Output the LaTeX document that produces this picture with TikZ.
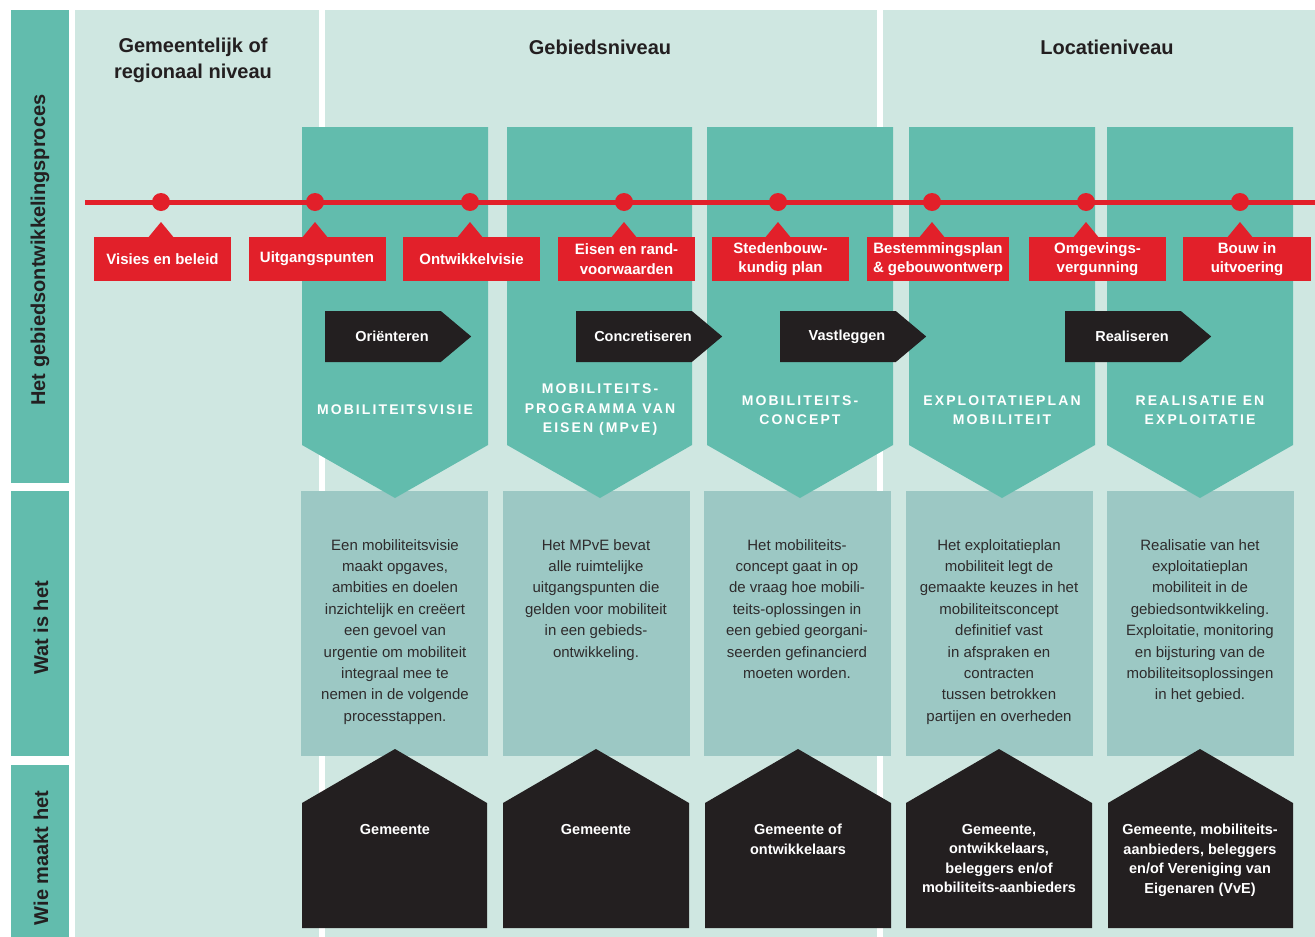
\documentclass[tikz,border=0pt]{standalone}
\usepackage{fontspec}
\setmainfont{Liberation Sans}
\newfontfamily\spacedfont[LetterSpace=15]{Liberation Sans}
\usetikzlibrary{calc,shapes,positioning}
\definecolor{mint}{HTML}{CFE7E1}
\definecolor{tealband}{HTML}{62BCAD}
\definecolor{descfill}{HTML}{9CC8C4}
\definecolor{redline}{HTML}{E2202A}
\definecolor{darkbox}{HTML}{231F20}
\definecolor{textgray}{HTML}{2E2B2C}

\begin{document}
\begin{tikzpicture}[x=1pt,y=-1pt,
  sidelabel/.style={rotate=90, text=darkbox, font=\fontsize{20}{24}\selectfont\bfseries},
  heading/.style={align=center, text=darkbox, font=\fontsize{20}{26}\selectfont\bfseries},
  milestone/.style={circle, fill=redline, minimum size=18pt, inner sep=0pt},
  milelabel/.style={fill=redline, text=white, minimum width=137pt, minimum height=44pt, inner sep=0pt, align=center, font=\fontsize{15}{19.5}\selectfont\bfseries},
  phase/.style={signal, signal to=east, signal pointer angle=80, fill=darkbox, text=white, minimum width=146pt, minimum height=51pt, inner sep=0pt, font=\fontsize{14.5}{18}\selectfont\bfseries, execute at begin node=\hspace*{18pt}},
  coltitle/.style={align=center, text=white, font=\fontsize{14}{19.5}\spacedfont\bfseries},
  desctext/.style={anchor=north, align=center, inner sep=0pt, text=textgray, font=\fontsize{15}{21.4}\selectfont},
  whotext/.style={anchor=north, align=center, inner sep=0pt, text=white, font=\fontsize{14.5}{19.5}\selectfont\bfseries}]
  \useasboundingbox (0,0) rectangle (1315,937);

  % achtergrond
  \fill [mint] (75,10) rectangle (319,937);
  \fill [mint] (325,10) rectangle (877,937);
  \fill [mint] (883,10) rectangle (1315,937);
  \fill [tealband] (11,10) rectangle (69,483);
  \fill [tealband] (11,491) rectangle (69,756);
  \fill [tealband] (11,765) rectangle (69,937);

  \node [sidelabel] (proces) at (40,250) {Het gebiedsontwikkelingsproces};
  \node [sidelabel] (watis) at (41,628) {Wat is het};
  \node [sidelabel] (wiemaakt) at (41,858) {Wie maakt het};

  \node [heading] (gemeentelijk) at (193,60) {Gemeentelijk of\\regionaal niveau};
  \node [heading] (gebied) at (600,47) {Gebiedsniveau};
  \node [heading] (locatie) at (1107,47) {Locatieniveau};

  % wat is het
  \fill [descfill] (301,491) rectangle (488,756);
  \fill [descfill] (503,491) rectangle (690,756);
  \fill [descfill] (704,491) rectangle (891,756);
  \fill [descfill] (906,491) rectangle (1093,756);
  \fill [descfill] (1107,491) rectangle (1294,756);

  % fasen
  \fill [tealband] (302,127) -- (488,127) -- (488,445) -- (395,498) -- (302,445) -- cycle;
  \fill [tealband] (507,127) -- (692,127) -- (692,445) -- (600,498) -- (507,445) -- cycle;
  \fill [tealband] (707,127) -- (893,127) -- (893,445) -- (800,498) -- (707,445) -- cycle;
  \fill [tealband] (909,127) -- (1095,127) -- (1095,445) -- (1002,498) -- (909,445) -- cycle;
  \fill [tealband] (1107,127) -- (1293,127) -- (1293,445) -- (1200,498) -- (1107,445) -- cycle;

  % tijdlijn
  \coordinate (tlstart) at (85,202);
  \coordinate (tlend) at (1315,202);
  \draw [redline, line width=5pt] (tlstart) -- (tlend);

  \node [milestone] (dot1) at (161,202) {};
  \node [milestone] (dot2) at (315,202) {};
  \node [milestone] (dot3) at (470,202) {};
  \node [milestone] (dot4) at (624,202) {};
  \node [milestone] (dot5) at (778,202) {};
  \node [milestone] (dot6) at (932,202) {};
  \node [milestone] (dot7) at (1086,202) {};
  \node [milestone] (dot8) at (1240,202) {};

  \node [milelabel] (lab1) at (162.5,259) {Visies en beleid};
  \node [milelabel] (lab2) at (317,259) {Uitgangspunten};
  \node [milelabel] (lab3) at (471.5,259) {Ontwikkelvisie};
  \node [milelabel] (lab4) at (626.5,259) {Eisen en rand-\\voorwaarden};
  \node [milelabel] (lab5) at (780.5,259) {Stedenbouw-\\kundig plan};
  \node [milelabel, minimum width=142pt] (lab6) at (938,259) {Bestemmingsplan\\\& gebouwontwerp};
  \node [milelabel] (lab7) at (1097.5,259) {Omgevings-\\vergunning};
  \node [milelabel, minimum width=128pt] (lab8) at (1247,259) {Bouw in\\uitvoering};

  \fill [redline] ($(lab1.north -| dot1)+(-13,1)$) -- ($(dot1)+(0,20)$) -- ($(lab1.north -| dot1)+(13,1)$) -- cycle;
  \fill [redline] ($(lab2.north -| dot2)+(-13,1)$) -- ($(dot2)+(0,20)$) -- ($(lab2.north -| dot2)+(13,1)$) -- cycle;
  \fill [redline] ($(lab3.north -| dot3)+(-13,1)$) -- ($(dot3)+(0,20)$) -- ($(lab3.north -| dot3)+(13,1)$) -- cycle;
  \fill [redline] ($(lab4.north -| dot4)+(-13,1)$) -- ($(dot4)+(0,20)$) -- ($(lab4.north -| dot4)+(13,1)$) -- cycle;
  \fill [redline] ($(lab5.north -| dot5)+(-13,1)$) -- ($(dot5)+(0,20)$) -- ($(lab5.north -| dot5)+(13,1)$) -- cycle;
  \fill [redline] ($(lab6.north -| dot6)+(-13,1)$) -- ($(dot6)+(0,20)$) -- ($(lab6.north -| dot6)+(13,1)$) -- cycle;
  \fill [redline] ($(lab7.north -| dot7)+(-13,1)$) -- ($(dot7)+(0,20)$) -- ($(lab7.north -| dot7)+(13,1)$) -- cycle;
  \fill [redline] ($(lab8.north -| dot8)+(-13,1)$) -- ($(dot8)+(0,20)$) -- ($(lab8.north -| dot8)+(13,1)$) -- cycle;

  \node [phase] (orient) at (383,336.5) {Oriënteren};
  \node [phase] (concreet) at (634,336.5) {Concretiseren};
  \node [phase] (vast) at (838,336.5) {Vastleggen};
  \node [phase] (realis) at (1123,336.5) {Realiseren};

  \node [coltitle] (tit1) at (395,410) {MOBILITEITSVISIE};
  \node [coltitle] (tit2) at (600,410) {MOBILITEITS-\\PROGRAMMA VAN\\EISEN (MPvE)};
  \node [coltitle] (tit3) at (800,410) {MOBILITEITS-\\CONCEPT};
  \node [coltitle] (tit4) at (1002,410) {EXPLOITATIEPLAN\\MOBILITEIT};
  \node [coltitle] (tit5) at (1200,410) {REALISATIE EN\\EXPLOITATIE};

  \node [desctext] (desc1) at (395,539) {Een mobiliteitsvisie\\maakt opgaves,\\ambities en doelen\\inzichtelijk en creëert\\een gevoel van\\urgentie om mobiliteit\\integraal mee te\\nemen in de volgende\\processtappen.};
  \node [desctext] (desc2) at (596,539) {Het MPvE bevat\\alle ruimtelijke\\uitgangspunten die\\gelden voor mobiliteit\\in een gebieds-\\ontwikkeling.};
  \node [desctext] (desc3) at (797,539) {Het mobiliteits-\\concept gaat in op\\de vraag hoe mobili-\\teits-oplossingen in\\een gebied georgani-\\seerden gefinancierd\\moeten worden.};
  \node [desctext] (desc4) at (999,539) {Het exploitatieplan\\mobiliteit legt de\\gemaakte keuzes in het\\mobiliteitsconcept\\definitief vast\\in afspraken en\\contracten\\tussen betrokken\\partijen en overheden};
  \node [desctext] (desc5) at (1200,539) {Realisatie van het\\exploitatieplan\\mobiliteit in de\\gebiedsontwikkeling.\\Exploitatie, monitoring\\en bijsturing van de\\mobiliteitsoplossingen\\in het gebied.};

  % wie maakt het
  \fill [darkbox] (302,928) -- (302,803) -- (395,749) -- (487,803) -- (487,928) -- cycle;
  \fill [darkbox] (503,928) -- (503,803) -- (596,749) -- (689,803) -- (689,928) -- cycle;
  \fill [darkbox] (705,928) -- (705,803) -- (798,749) -- (891,803) -- (891,928) -- cycle;
  \fill [darkbox] (906,928) -- (906,803) -- (999,749) -- (1092,803) -- (1092,928) -- cycle;
  \fill [darkbox] (1108,928) -- (1108,803) -- (1200,749) -- (1293,803) -- (1293,928) -- cycle;

  \node [whotext] (who1) at (395,824) {Gemeente};
  \node [whotext] (who2) at (596,824) {Gemeente};
  \node [whotext] (who3) at (798,824) {Gemeente of\\ontwikkelaars};
  \node [whotext] (who4) at (999,824) {Gemeente,\\ontwikkelaars,\\beleggers en/of\\mobiliteits-aanbieders};
  \node [whotext] (who5) at (1200,824) {Gemeente, mobiliteits-\\aanbieders, beleggers\\en/of Vereniging van\\Eigenaren (VvE)};
\end{tikzpicture}
\end{document}
